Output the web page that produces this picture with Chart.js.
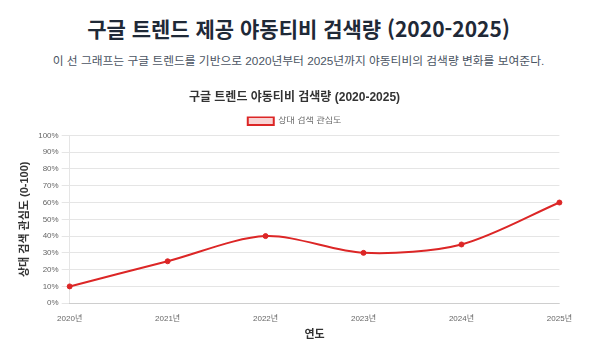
<!DOCTYPE html>
<html lang="ko">
<head>
<meta charset="utf-8">
<script src="https://cdn.jsdelivr.net/npm/chart.js@4.4.1/dist/chart.umd.min.js"></script>
<style>
  body { margin: 0; background: #fff; font-family: Arial, "Noto Sans CJK KR", sans-serif; }
  h1 { margin: 0; position: absolute; top: 13px; left: 0; width: 597px; text-align: center; font-size: 21px; font-weight: 700; color: #1f2937; font-family: "Noto Sans CJK KR", sans-serif; }
  p.sub { margin: 0; position: absolute; top: 51px; left: 0; width: 597px; text-align: center; font-size: 11.75px; color: #4b5563; }
  .wrap { position: absolute; left: 14px; top: 80px; width: 561px; height: 262px; }
</style>
</head>
<body>
<h1>구글 트렌드 제공 야동티비 검색량 (2020-2025)</h1>
<p class="sub">이 선 그래프는 구글 트렌드를 기반으로 2020년부터 2025년까지 야동티비의 검색량 변화를 보여준다.</p>
<div class="wrap"><canvas id="chart"></canvas></div>
<script>
var years = ['2020년', '2021년', '2022년', '2023년', '2024년', '2025년'];
var interest = [10, 25, 40, 30, 35, 60];

document.addEventListener('DOMContentLoaded', function () {
    var fontFamily = 'Arial, "Noto Sans CJK KR", sans-serif';

    new Chart(document.getElementById('chart'), {
        type: 'line',
        data: {
            labels: years,
            datasets: [{
                label: '상대 검색 관심도',
                data: interest,
                borderColor: '#dc2626',
                backgroundColor: 'rgba(220, 38, 38, 0.2)',
                borderWidth: 2,
                pointBackgroundColor: '#dc2626',
                pointBorderColor: '#dc2626',
                pointRadius: 2.5,
                pointBorderWidth: 1,
                tension: 0.3,
                fill: false
            }]
        },
        options: {
            responsive: true,
            maintainAspectRatio: false,
            animation: false,
            plugins: {
                title: {
                    display: true,
                    text: '구글 트렌드 야동티비 검색량 (2020-2025)',
                    color: '#333',
                    font: { size: 12, weight: 'bold', family: fontFamily },
                    padding: { top: 10, bottom: 12 }
                },
                legend: {
                    labels: {
                        color: '#666',
                        boxWidth: 26,
                        boxHeight: 8,
                        padding: 0,
                        font: { size: 9, family: fontFamily }
                    }
                }
            },
            scales: {
                x: {
                    grid: { display: false },
                    ticks: { color: '#666', font: { size: 8, family: fontFamily } },
                    title: {
                        display: true,
                        text: '연도',
                        color: '#333',
                        padding: { top: 2, bottom: 0 },
                        font: { size: 11, weight: 'bold', family: fontFamily }
                    }
                },
                y: {
                    min: 0,
                    max: 100,
                    ticks: {
                        stepSize: 10,
                        color: '#666',
                        font: { size: 8, family: fontFamily },
                        callback: function (v) { return v + '%'; }
                    },
                    title: {
                        display: true,
                        text: '상대 검색 관심도 (0-100)',
                        color: '#333',
                        font: { size: 11, weight: 'bold', family: fontFamily }
                    }
                }
            }
        }
    });
});
</script>
</body>
</html>
